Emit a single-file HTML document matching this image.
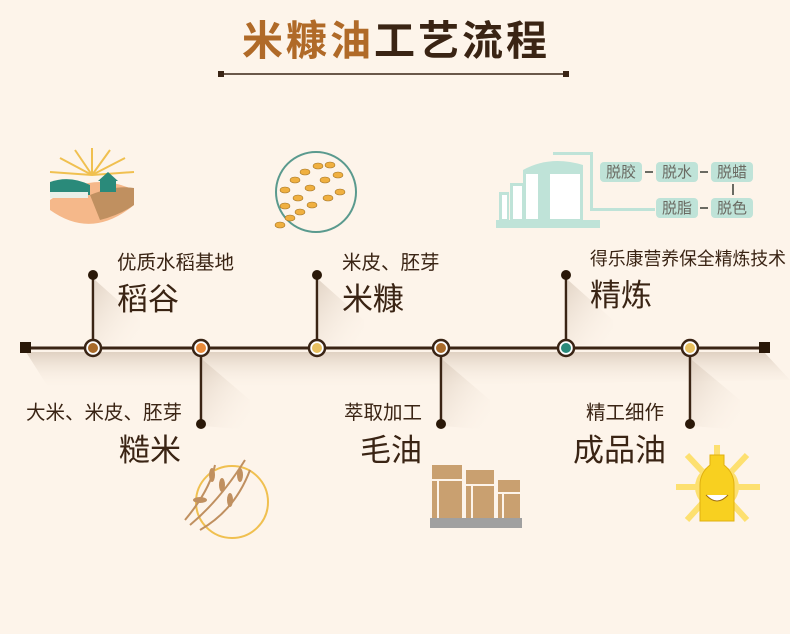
<!DOCTYPE html>
<html><head><meta charset="utf-8"><style>
html,body{margin:0;padding:0;background:#fdf4ea;}
svg{display:block;font-family:"Liberation Sans","Noto Sans CJK SC",sans-serif;}
</style></head><body>
<svg width="790" height="634" viewBox="0 0 790 634" xmlns="http://www.w3.org/2000/svg">
<defs>
<linearGradient id="sh" x1="0" y1="0" x2="1" y2="1"><stop offset="0" stop-color="#d8c8b8" stop-opacity="0.7"/><stop offset="1" stop-color="#fdf4ea" stop-opacity="0"/></linearGradient>
<linearGradient id="shl" x1="0" y1="0" x2="0" y2="1"><stop offset="0" stop-color="#d8c8b8" stop-opacity="0.8"/><stop offset="1" stop-color="#fdf4ea" stop-opacity="0"/></linearGradient>
</defs>
<rect width="790" height="634" fill="#fdf4ea"/>
<text x="396" y="55" text-anchor="middle" font-size="41" font-weight="bold" letter-spacing="3"><tspan fill="#b06a28">米糠油</tspan><tspan fill="#3a2414">工艺流程</tspan></text>
<line x1="221" y1="74" x2="566" y2="74" stroke="#3a2414" stroke-width="1.5"/>
<rect x="218" y="71" width="6" height="6" fill="#3a2414"/><rect x="563" y="71" width="6" height="6" fill="#3a2414"/>
<polygon points="26,352 764,352 790,380 50,390" fill="url(#shl)"/>
<polygon points="95,280 140,320 140,345 95,345" fill="url(#sh)"/>
<polygon points="319,280 364,320 364,345 319,345" fill="url(#sh)"/>
<polygon points="568,280 613,320 613,345 568,345" fill="url(#sh)"/>
<polygon points="203,360 250,400 250,430 203,426" fill="url(#sh)"/>
<polygon points="443,360 490,400 490,430 443,426" fill="url(#sh)"/>
<polygon points="692,360 740,400 740,430 692,426" fill="url(#sh)"/>
<line x1="26" y1="348" x2="764" y2="348" stroke="#3a2414" stroke-width="3"/>
<rect x="20" y="342" width="11" height="11" fill="#2a1808"/><rect x="759" y="342" width="11" height="11" fill="#2a1808"/>
<g stroke="#3a2414" stroke-width="2.5">
<line x1="93" y1="275" x2="93" y2="348"/><line x1="317" y1="275" x2="317" y2="348"/><line x1="566" y1="275" x2="566" y2="348"/>
<line x1="201" y1="348" x2="201" y2="424"/><line x1="441" y1="348" x2="441" y2="424"/><line x1="690" y1="348" x2="690" y2="424"/>
</g>
<g fill="#2a1808"><circle cx="93" cy="275" r="5"/><circle cx="317" cy="275" r="5"/><circle cx="566" cy="275" r="5"/><circle cx="201" cy="424" r="5"/><circle cx="441" cy="424" r="5"/><circle cx="690" cy="424" r="5"/></g>
<g stroke="#3a2414" stroke-width="2.5">
<circle cx="93" cy="348" r="8" fill="#fff"/><circle cx="201" cy="348" r="8" fill="#fff"/><circle cx="317" cy="348" r="8" fill="#fff"/><circle cx="441" cy="348" r="8" fill="#fff"/><circle cx="566" cy="348" r="8" fill="#fff"/><circle cx="690" cy="348" r="8" fill="#fff"/>
</g>
<circle cx="93" cy="348" r="5" fill="#a86a2a"/><circle cx="201" cy="348" r="5" fill="#e88a3a"/><circle cx="317" cy="348" r="5" fill="#e8c060"/><circle cx="441" cy="348" r="5" fill="#a86a2a"/><circle cx="566" cy="348" r="5" fill="#2a8a7a"/><circle cx="690" cy="348" r="5" fill="#e8c060"/>
<g fill="#3a2414">
<text x="117" y="269" font-size="19.5">优质水稻基地</text><text x="117" y="310" font-size="31">稻谷</text>
<text x="342" y="269" font-size="19.5">米皮、胚芽</text><text x="342" y="310" font-size="31">米糠</text>
<text x="590" y="265" font-size="18" textLength="196" lengthAdjust="spacingAndGlyphs">得乐康营养保全精炼技术</text><text x="590" y="306" font-size="31">精炼</text>
<text x="182" y="419" font-size="19.5" text-anchor="end">大米、米皮、胚芽</text><text x="181" y="461" font-size="31" text-anchor="end">糙米</text>
<text x="422" y="419" font-size="19.5" text-anchor="end">萃取加工</text><text x="422" y="461" font-size="31" text-anchor="end">毛油</text>
<text x="664" y="419" font-size="19.5" text-anchor="end">精工细作</text><text x="666" y="461" font-size="31" text-anchor="end">成品油</text>
</g>
<g>
<g stroke="#f0c050" stroke-width="2">
<line x1="92" y1="175" x2="92" y2="148"/><line x1="92" y1="175" x2="75" y2="150"/><line x1="92" y1="175" x2="110" y2="150"/><line x1="92" y1="175" x2="60" y2="158"/><line x1="92" y1="175" x2="125" y2="158"/><line x1="92" y1="175" x2="50" y2="172"/><line x1="92" y1="175" x2="134" y2="172"/>
</g>
<path d="M50 200 Q92 170 134 190 L134 205 Q92 240 50 210 Z" fill="#f5b88a"/>
<path d="M90 195 Q115 185 134 188 L134 205 Q120 215 100 220 Z" fill="#c09060"/>
<path d="M50 182 Q70 175 90 185 L90 195 L50 195 Z" fill="#2a8a7a"/>
<rect x="100" y="180" width="16" height="12" fill="#2a8a7a"/><polygon points="98,181 108,172 118,181" fill="#2a8a7a"/>
<rect x="50" y="192" width="38" height="6" fill="#e8f0e8"/>
</g>
<circle cx="316" cy="192" r="40" fill="none" stroke="#5a9a8e" stroke-width="2"/>
<g fill="#f0b040" stroke="#a07020" stroke-width="0.6">
<ellipse cx="285" cy="190" rx="5" ry="3"/><ellipse cx="295" cy="180" rx="5" ry="3"/><ellipse cx="305" cy="172" rx="5" ry="3"/><ellipse cx="318" cy="166" rx="5" ry="3"/><ellipse cx="330" cy="165" rx="5" ry="3"/><ellipse cx="338" cy="175" rx="5" ry="3"/><ellipse cx="325" cy="180" rx="5" ry="3"/><ellipse cx="310" cy="188" rx="5" ry="3"/><ellipse cx="298" cy="198" rx="5" ry="3"/><ellipse cx="285" cy="206" rx="5" ry="3"/><ellipse cx="290" cy="218" rx="5" ry="3"/><ellipse cx="312" cy="205" rx="5" ry="3"/><ellipse cx="328" cy="198" rx="5" ry="3"/><ellipse cx="340" cy="192" rx="5" ry="3"/><ellipse cx="300" cy="212" rx="5" ry="3"/><ellipse cx="280" cy="225" rx="5" ry="3"/>
</g>
<g fill="#bfe3d8">
<rect x="496" y="220" width="104" height="8"/>
<rect x="499" y="192" width="10" height="28"/><rect x="510" y="183" width="14" height="37"/><rect x="523" y="170" width="60" height="50"/>
<path d="M523 170 Q550 155 583 165 L583 170 Z"/>
<rect x="553" y="152" width="40" height="3"/><rect x="590" y="155" width="3" height="55"/><rect x="590" y="208" width="65" height="3"/>
</g>
<g fill="#fff"><rect x="502" y="195" width="5" height="24"/><rect x="513" y="186" width="9" height="33"/><rect x="526" y="174" width="12" height="45"/><rect x="550" y="174" width="30" height="45"/></g>
<g font-size="15" fill="#6a6a62">
<rect x="600" y="162" width="42" height="20" rx="4" fill="#bfe3d8"/><text x="621" y="177" text-anchor="middle">脱胶</text>
<rect x="656" y="162" width="42" height="20" rx="4" fill="#bfe3d8"/><text x="677" y="177" text-anchor="middle">脱水</text>
<rect x="711" y="162" width="42" height="20" rx="4" fill="#bfe3d8"/><text x="732" y="177" text-anchor="middle">脱蜡</text>
<rect x="656" y="198" width="42" height="20" rx="4" fill="#bfe3d8"/><text x="677" y="213" text-anchor="middle">脱脂</text>
<rect x="711" y="198" width="42" height="20" rx="4" fill="#bfe3d8"/><text x="732" y="213" text-anchor="middle">脱色</text>
</g>
<g stroke="#6a6a62" stroke-width="2"><line x1="645" y1="172" x2="653" y2="172"/><line x1="700" y1="172" x2="708" y2="172"/><line x1="700" y1="208" x2="708" y2="208"/><line x1="733" y1="184" x2="733" y2="195"/></g>
<circle cx="232" cy="502" r="36" fill="none" stroke="#f0c050" stroke-width="2"/>
<g stroke="#c09060" stroke-width="2" fill="none"><path d="M190 525 Q220 500 245 460"/><path d="M185 520 Q210 490 215 465"/><path d="M200 530 Q235 510 250 470"/></g>
<g fill="#c09060"><ellipse cx="212" cy="475" rx="3" ry="7"/><ellipse cx="222" cy="485" rx="3" ry="7"/><ellipse cx="240" cy="475" rx="3" ry="7"/><ellipse cx="200" cy="500" rx="7" ry="3"/><ellipse cx="230" cy="500" rx="3" ry="7"/></g>
<g fill="#c9a070"><rect x="432" y="465" width="30" height="55"/><rect x="466" y="470" width="28" height="50"/><rect x="498" y="480" width="22" height="40"/></g>
<g stroke="#fdf4ea" stroke-width="2"><line x1="432" y1="480" x2="462" y2="480"/><line x1="466" y1="485" x2="494" y2="485"/><line x1="498" y1="493" x2="520" y2="493"/><line x1="438" y1="480" x2="438" y2="520"/><line x1="472" y1="485" x2="472" y2="520"/><line x1="503" y1="493" x2="503" y2="520"/></g>
<rect x="430" y="518" width="92" height="10" fill="#a0a0a0"/>
<g stroke="#fde070" stroke-width="6">
<line x1="717" y1="487" x2="717" y2="445"/><line x1="717" y1="487" x2="760" y2="487"/><line x1="717" y1="487" x2="676" y2="487"/><line x1="717" y1="487" x2="747" y2="455"/><line x1="717" y1="487" x2="687" y2="455"/><line x1="717" y1="487" x2="747" y2="520"/><line x1="717" y1="487" x2="687" y2="520"/>
</g>
<circle cx="717" cy="487" r="22" fill="#fde070"/>
<path d="M710 455 h14 v10 q10 8 10 20 v36 h-34 v-36 q0 -12 10 -20 Z" fill="#f8d020" stroke="#e0b010"/>
<path d="M706 495 q11 12 22 0" fill="#fff" stroke="#a07010"/>
</svg>
</body></html>
